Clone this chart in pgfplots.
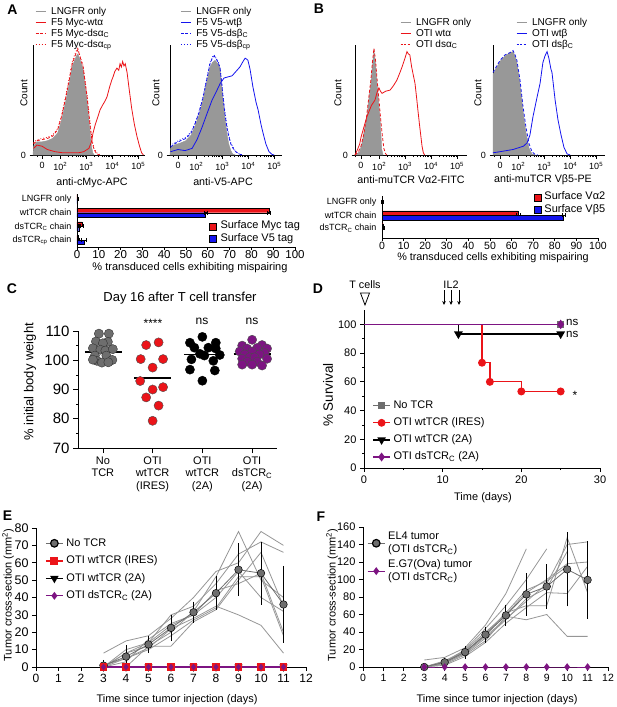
\documentclass[border=0pt]{standalone}
\usepackage{fontspec}
\setmainfont{Liberation Sans}
\setsansfont{Liberation Sans}
\usepackage{pgfplots}
\pgfplotsset{compat=1.18}
\usetikzlibrary{arrows.meta}

\definecolor{hgrey}{RGB}{152,152,152}
\definecolor{myred}{RGB}{235,20,25}
\definecolor{myblue}{RGB}{20,20,238}
\definecolor{mypurple}{RGB}{125,20,130}
\definecolor{cgrey}{RGB}{110,110,110}
\definecolor{lgrey}{RGB}{150,150,150}

\newcommand{\fs}[2]{\fontsize{#1}{#2}\selectfont}

\pgfplotsset{
  base/.style={
    scale only axis, enlargelimits=false, clip=false, anchor=south west,
    axis x line=bottom, axis y line=left,
    axis line style={-, line width=0.8pt},
    tick align=outside, major tick length=3.5pt, minor tick length=2pt,
    tick style={black, line width=0.7pt},
    /pgf/number format/assume math mode=true,
  },
  hist/.style={
    base, width=112pt, height=110pt, ymin=0, ymax=100, ytick={0},
    xtick={0,0.7,1.7,2.7,3.7},
    xticklabels={0,10\textsuperscript{2},10\textsuperscript{3},10\textsuperscript{4},10\textsuperscript{5}},
    minor xtick={-0.2,0.35,1.001,1.177,1.302,1.399,1.478,1.545,1.603,1.654,2.001,2.177,2.302,2.399,2.478,2.545,2.603,2.654,3.001,3.177,3.302,3.399,3.478,3.545,3.603,3.654},
    ticklabel style={font=\fs{9}{10}},
    legend image code/.code={\draw[##1] (0pt,0pt) -- (10.5pt,0pt);},
    legend style={draw=none, fill=none, inner sep=0pt, row sep=0pt, column sep=4pt, anchor=north west,
      font=\fs{10}{11}, nodes={inner sep=0.5pt, text height=7.5pt, text depth=2.5pt}},
    legend cell align=left,
  },
  curve/.style={line width=0.8pt, forget plot},
}

\begin{document}
\begin{tikzpicture}[x=1pt, y=-1pt]
\useasboundingbox (0,0) rectangle (617,707);

% ---------------- A: histograms
\begin{axis}[hist, at={(33pt,-155pt)}, xmin=-0.35, xmax=3.96,
  legend style={at={(0.018,1.355)}}]
\addplot[fill=hgrey, draw=hgrey, forget plot] coordinates {
 (-0.35,0)(-0.33,8)(-0.2,12)(0.0,12)(0.2,13)(0.4,15)(0.6,20)(0.75,32)(0.92,50)(1.05,66)(1.15,80)(1.25,86)(1.32,90)(1.38,92)(1.44,88)(1.5,84)(1.58,78)(1.65,64)(1.73,50)(1.8,33)(1.85,20)(1.9,8)(1.95,2)(2.0,0)} \closedcycle;
\addplot[curve, myred, dotted] coordinates {
 (-0.33,11)(-0.2,14)(0.0,15)(0.2,16)(0.4,18)(0.6,24)(0.75,36)(0.92,55)(1.05,71)(1.15,84)(1.25,91)(1.32,95)(1.36,98)(1.42,93)(1.5,87)(1.58,81)(1.65,68)(1.73,55)(1.8,39)(1.87,24)(1.93,13)(2.0,6)(2.1,2)(2.25,0)};
\addplot[curve, myred, dash pattern=on 3pt off 2pt] coordinates {
 (-0.33,10)(-0.2,13)(0.0,14)(0.2,15)(0.4,17)(0.6,23)(0.75,35)(0.92,53)(1.05,69)(1.15,82)(1.25,89)(1.32,93)(1.38,96)(1.44,91)(1.5,86)(1.58,80)(1.65,67)(1.73,53)(1.8,37)(1.87,22)(1.93,11)(2.0,5)(2.1,1)(2.2,0)};
\addplot[curve, myred] coordinates {
 (-0.33,6)(-0.2,9)(0.0,8)(0.2,5)(0.5,3)(0.8,2)(1.1,2)(1.4,2)(1.6,3)(1.8,6)(1.9,12)(1.96,20)(2.05,28)(2.15,35)(2.23,41)(2.32,45)(2.42,49)(2.5,53)(2.6,62)(2.68,68)(2.73,71)(2.8,76)(2.88,79)(2.95,77)(3.0,83)(3.05,80)(3.1,85)(3.15,81)(3.2,83)(3.27,75)(3.35,60)(3.45,42)(3.55,28)(3.65,17)(3.75,8)(3.83,2)(3.9,0)};
\addlegendimage{hgrey, line width=1pt}\addlegendentry{LNGFR only}
\addlegendimage{myred, line width=1pt}\addlegendentry{F5 Myc-wtα}
\addlegendimage{myred, line width=1pt, dash pattern=on 3pt off 1.5pt}\addlegendentry{F5 Myc-dsα\textsubscript{C}}
\addlegendimage{myred, line width=1pt, dotted}\addlegendentry{F5 Myc-dsα\textsubscript{cp}}
\end{axis}

\begin{axis}[hist, at={(170pt,-155pt)}, xmin=-0.31, xmax=4.0,
  legend style={at={(0.09,1.355)}}]
\addplot[fill=hgrey, draw=hgrey, forget plot] coordinates {
 (-0.31,0)(-0.29,6)(-0.15,9)(0.1,11)(0.3,13)(0.5,18)(0.65,26)(0.8,36)(0.96,50)(1.1,66)(1.23,80)(1.32,84)(1.42,86)(1.5,84)(1.58,82)(1.62,78)(1.68,62)(1.73,50)(1.8,35)(1.88,20)(1.95,10)(2.03,4)(2.1,1)(2.2,0)} \closedcycle;
\addplot[curve, myblue, dotted] coordinates {
 (-0.29,8)(-0.15,11)(0.1,14)(0.3,16)(0.5,21)(0.65,29)(0.8,39)(0.96,53)(1.1,69)(1.23,84)(1.32,89)(1.38,91)(1.46,88)(1.56,84)(1.62,79)(1.68,66)(1.73,54)(1.8,40)(1.88,27)(1.95,18)(2.03,11)(2.12,7)(2.22,3)(2.35,1)(2.5,0)};
\addplot[curve, myblue, dash pattern=on 3pt off 2pt] coordinates {
 (-0.29,7)(-0.15,10)(0.1,13)(0.3,15)(0.5,20)(0.65,28)(0.8,38)(0.96,52)(1.1,68)(1.23,83)(1.32,88)(1.4,90)(1.48,87)(1.56,83)(1.62,78)(1.68,65)(1.73,53)(1.8,38)(1.88,25)(1.95,17)(2.03,10)(2.12,6)(2.22,3)(2.35,1)(2.45,0)};
\addplot[curve, myblue] coordinates {
 (-0.29,3)(0.0,5)(0.27,4)(0.54,6)(0.73,14)(0.92,25)(1.12,38)(1.31,50)(1.5,59)(1.62,65)(1.77,70)(1.92,71)(2.08,72)(2.23,76)(2.38,80)(2.5,85)(2.58,88)(2.65,87)(2.69,86)(2.77,78)(2.88,62)(3.0,48)(3.08,41)(3.19,28)(3.27,20)(3.38,10)(3.5,3)(3.62,0.5)(3.7,0)};
\addlegendimage{hgrey, line width=1pt}\addlegendentry{LNGFR only}
\addlegendimage{myblue, line width=1pt}\addlegendentry{F5 V5-wtβ}
\addlegendimage{myblue, line width=1pt, dash pattern=on 3pt off 1.5pt}\addlegendentry{F5 V5-dsβ\textsubscript{C}}
\addlegendimage{myblue, line width=1pt, dotted}\addlegendentry{F5 V5-dsβ\textsubscript{cp}}
\end{axis}

% ---------------- B: histograms
\begin{axis}[hist, at={(355pt,-155pt)}, xmin=-0.23, xmax=4.08,
  legend style={at={(0.40,1.255)}}]
\addplot[fill=hgrey, draw=hgrey, forget plot] coordinates {
 (-0.23,0)(-0.05,3)(0.05,12)(0.15,25)(0.23,35)(0.3,50)(0.38,65)(0.44,82)(0.5,95)(0.55,85)(0.62,65)(0.68,48)(0.73,35)(0.77,18)(0.8,5)(0.85,0)} \closedcycle;
\addplot[curve, myred, dash pattern=on 3pt off 2pt] coordinates {
 (-0.23,0)(-0.1,3)(0.0,8)(0.1,18)(0.2,32)(0.3,52)(0.38,68)(0.44,84)(0.5,97)(0.56,86)(0.63,66)(0.7,48)(0.76,32)(0.82,18)(0.88,6)(0.95,1)(1.0,0)};
\addplot[curve, myred] coordinates {
 (-0.23,0)(-0.15,4)(-0.05,10)(0.0,16)(0.12,26)(0.23,35)(0.4,45)(0.54,50)(0.62,57)(0.69,61)(0.75,58)(0.81,56)(0.95,58)(1.12,59)(1.25,63)(1.38,68)(1.5,75)(1.58,80)(1.68,87)(1.77,94)(1.82,92)(1.88,91)(1.95,80)(2.08,65)(2.15,50)(2.19,41)(2.25,28)(2.3,18)(2.35,8)(2.4,2)(2.45,0)};
\addlegendimage{hgrey, line width=1pt}\addlegendentry{LNGFR only}
\addlegendimage{myred, line width=1pt}\addlegendentry{OTI wtα}
\addlegendimage{myred, line width=1pt, dash pattern=on 2pt off 1.5pt}\addlegendentry{OTI dsα\textsubscript{C}}
\end{axis}

\begin{axis}[hist, at={(493pt,-155pt)}, xmin=-0.27, xmax=4.04,
  legend style={at={(0.205,1.255)}}]
\addplot[fill=hgrey, draw=hgrey, forget plot] coordinates {
 (-0.27,73)(-0.15,79)(0.0,85)(0.19,90)(0.38,93)(0.5,94)(0.58,90)(0.65,84)(0.77,65)(0.88,41)(1.0,20)(1.12,6)(1.23,1)(1.35,0)} \closedcycle;
\addplot[curve, myblue, dash pattern=on 3pt off 2pt] coordinates {
 (-0.27,75)(-0.15,80)(0.0,86)(0.19,91)(0.38,93)(0.5,95)(0.58,91)(0.65,86)(0.77,68)(0.88,45)(1.0,25)(1.12,10)(1.23,3)(1.35,0.5)(1.45,0)};
\addplot[curve, myblue] coordinates {
 (-0.27,2)(0.0,3)(0.5,5)(0.9,8)(1.04,11)(1.15,18)(1.27,35)(1.42,52)(1.54,65)(1.65,84)(1.73,90)(1.81,94)(1.88,88)(1.96,78)(2.0,75)(2.12,50)(2.23,32)(2.35,18)(2.46,7)(2.58,1)(2.7,0)};
\addlegendimage{hgrey, line width=1pt}\addlegendentry{LNGFR only}
\addlegendimage{myblue, line width=1pt}\addlegendentry{OTI wtβ}
\addlegendimage{myblue, line width=1pt, dash pattern=on 2pt off 1.5pt}\addlegendentry{OTI dsβ\textsubscript{C}}
\end{axis}

% ---------------- A: bars
\begin{axis}[base, at={(77pt,-247pt)}, width=218pt, height=52pt,
  xmin=0, xmax=100, ymin=0.49, ymax=4.3,
  xtick={0,10,...,100}, ytick={1,2,3,4},
  yticklabels={dsTCR\textsubscript{cp} chain, dsTCR\textsubscript{C} chain, wtTCR chain, LNGFR only},
  ytick style={draw=none}, yticklabel style={font=\fs{9}{10}, xshift=1pt},
  xticklabel style={font=\fs{11.5}{12}, inner sep=0.5pt}, major tick length=3pt,
  legend image code/.code={\draw[#1] (0pt,-3.5pt) rectangle (7pt,3.5pt);},
  legend style={at={(0.606,0.52)}, anchor=north west, draw=none, fill=none, inner sep=0pt, row sep=0pt, column sep=3pt,
    font=\fs{11}{12}, nodes={inner sep=0.8pt, text height=8pt, text depth=2.5pt}},
  legend cell align=left]
\addplot[xbar, bar width=4.6pt, bar shift=2.3pt, fill=myred, draw=black, line width=0.4pt, forget plot,
  error bars/.cd, x dir=both, x explicit, error bar style={black, line width=0.6pt}]
  coordinates {(0.3,4) +- (0.4,0) (88,3) +- (0.8,0) (2.2,2) +- (0.8,0) (0.6,1) +- (0.4,0)};
\addplot[xbar, bar width=4.6pt, bar shift=-2.3pt, fill=myblue, draw=black, line width=0.4pt, forget plot,
  error bars/.cd, x dir=both, x explicit, error bar style={black, line width=0.6pt}]
  coordinates {(0.2,4) +- (0.3,0) (59,3) +- (0.5,0) (0.8,2) +- (0.3,0) (3.2,1) +- (1.2,0)};
\addlegendimage{fill=myred, draw=black}\addlegendentry{Surface Myc tag}
\addlegendimage{fill=myblue, draw=black}\addlegendentry{Surface V5 tag}
\end{axis}

% ---------------- B: bars
\begin{axis}[base, at={(382pt,-238pt)}, width=216pt, height=42pt,
  xmin=0, xmax=100, ymin=0.25, ymax=3.5,
  xtick={0,10,...,100}, ytick={1,2,3},
  yticklabels={dsTCR\textsubscript{C} chain, wtTCR chain, LNGFR only},
  ytick style={draw=none}, yticklabel style={font=\fs{9}{10}, xshift=1pt},
  xticklabel style={font=\fs{10.5}{11}, inner sep=1pt}, major tick length=3pt,
  legend image code/.code={\draw[#1] (0pt,-3.5pt) rectangle (7pt,3.5pt);},
  legend style={at={(0.704,1.12)}, anchor=north west, draw=none, fill=none, inner sep=0pt, row sep=0pt, column sep=2pt,
    font=\fs{11}{12}, nodes={inner sep=0.8pt, text height=8pt, text depth=2.5pt}},
  legend cell align=left]
\addplot[xbar, bar width=4.6pt, bar shift=2.3pt, fill=myred, draw=black, line width=0.4pt, forget plot,
  error bars/.cd, x dir=both, x explicit, error bar style={black, line width=0.6pt}]
  coordinates {(0.2,3) +- (0.3,0) (63,2) +- (0.8,0) (0.6,1) +- (0.4,0)};
\addplot[xbar, bar width=4.6pt, bar shift=-2.3pt, fill=myblue, draw=black, line width=0.4pt, forget plot,
  error bars/.cd, x dir=both, x explicit, error bar style={black, line width=0.6pt}]
  coordinates {(0.1,3) +- (0.3,0) (84,2) +- (0.8,0) (0.2,1) +- (0.2,0)};
\addlegendimage{fill=myred, draw=black}\addlegendentry{Surface Vα2}
\addlegendimage{fill=myblue, draw=black}\addlegendentry{Surface Vβ5}
\end{axis}

% ---------------- C: body weight
\begin{axis}[base, at={(78pt,-448pt)}, width=199pt, height=117pt,
  xmin=0.5, xmax=4.5, ymin=70, ymax=110,
  ytick={70,80,...,110}, minor ytick={75,85,95,105},
  xtick={1,2,3,4}, major tick length=5pt,
  xticklabels={{No\\TCR},{OTI\\wtTCR\\(IRES)},{OTI\\wtTCR\\(2A)},{OTI\\dsTCR\textsubscript{C}\\(2A)}},
  xticklabel style={align=center, font=\fs{11}{12.5}},
  yticklabel style={font=\fs{15}{16}}]
\addplot[only marks, mark=*, mark size=4.6pt, mark options={fill=cgrey, draw=black!80, line width=0.4pt}] coordinates {
 (0.92,109.1)(1.12,109.1)(0.86,106.4)(1.10,106.3)(1.00,105.8)(0.80,104.1)(0.95,103.6)(1.05,103.3)(1.20,103.8)(0.84,101.6)(1.07,101.6)(1.19,100.1)(0.88,99.8)(0.98,99.2)(1.11,99.3)(0.80,100.2)};
\addplot[only marks, mark=*, mark size=4.6pt, mark options={fill=myred, draw=black!70, line width=0.4pt}] coordinates {
 (1.87,105.2)(2.12,106.1)(1.76,100.4)(2.21,100.4)(2.0,97.5)(1.75,92.9)(2.0,90.0)(2.21,90.8)(1.87,87.3)(2.12,84.5)(2.0,79.3)};
\addplot[only marks, mark=*, mark size=4.6pt, mark options={fill=black, draw=black}] coordinates {
 (3.0,108)(2.75,106)(3.27,106)(2.84,104.3)(3.12,104.3)(3.27,104)(2.95,102.2)(3.04,101.6)(3.35,101.8)(2.78,100.3)(3.22,99.8)(2.75,96.8)(3.25,96.5)(3.0,93)};
\addplot[only marks, mark=*, mark size=4.6pt, mark options={fill=mypurple, draw=black!70, line width=0.4pt}] coordinates {
 (4.0,107)(3.8,105)(4.2,105.2)(3.9,104)(4.1,104.2)(4.3,104)(3.75,103)(4.0,103)(4.25,102.5)(3.85,102)(4.15,102)(3.95,101)(4.05,101)(3.8,100.5)(4.3,100.5)(3.9,99.5)(4.1,99.5)(4.0,98.5)(4.2,98.2)(3.8,98.5)};
\addplot[black, line width=1.6pt] coordinates {(0.64,102.8)(1.38,102.8)};
\addplot[black, line width=1.6pt] coordinates {(1.63,94.0)(2.37,94.0)};
\addplot[black, line width=1.6pt] coordinates {(2.63,101.9)(3.37,101.9)};
\addplot[black, line width=1.6pt] coordinates {(3.63,102.1)(4.37,102.1)};
\end{axis}

% ---------------- D: survival
\begin{axis}[base, at={(364pt,-468pt)}, width=236pt, height=158pt,
  xmin=0, xmax=30, ymin=0, ymax=110,
  xtick={0,10,20,30}, minor xtick={5,15,25}, ytick={0,20,...,100}, minor ytick={10,30,...,90},
  ticklabel style={font=\fs{11}{12}}, major tick length=4pt,
  legend style={at={(0.035,0.03)}, anchor=south west, draw=none, fill=none, inner sep=0pt, row sep=5pt, column sep=2pt,
    font=\fs{11}{12}, nodes={inner sep=0.8pt, text height=8pt, text depth=2.5pt}},
  legend cell align=left]
\addplot[const plot, forget plot, cgrey, line width=1.3pt, mark=square*, mark size=3pt, mark indices={2}] coordinates {(0,100)(25,100)};
\addplot[const plot, forget plot, black, line width=1.3pt, mark=triangle*, mark size=3.8pt, mark options={rotate=180}, mark indices={2,3}] coordinates {(0,100)(12,93.3)(25,93.3)};
\addplot[const plot, forget plot, myred, line width=1.3pt, mark=*, mark size=3.3pt, mark indices={2,3,4,5}] coordinates {(0,100)(15,73.3)(16,60)(20,53.3)(25,53.3)};
\addplot[const plot, forget plot, mypurple, line width=1.5pt, mark=diamond*, mark size=3.5pt, mark indices={2}] coordinates {(0,100)(25,100)};
\addlegendimage{cgrey, line width=1.2pt, mark=square*, mark size=3pt}\addlegendentry{No TCR}
\addlegendimage{myred, line width=1.2pt, mark=*, mark size=3.3pt}\addlegendentry{OTI wtTCR (IRES)}
\addlegendimage{black, line width=1.2pt, mark=triangle*, mark size=3.8pt, mark options={rotate=180}}\addlegendentry{OTI wtTCR (2A)}
\addlegendimage{mypurple, line width=1.2pt, mark=diamond*, mark size=3.5pt}\addlegendentry{OTI dsTCR\textsubscript{C} (2A)}
\end{axis}

% ---------------- E: tumour growth
\begin{axis}[base, at={(36pt,-667pt)}, width=270pt, height=139pt,
  xmin=0, xmax=12, ymin=0, ymax=80,
  xtick={0,...,12}, ytick={0,10,...,80},
  xticklabel style={font=\fs{12}{13}}, yticklabel style={font=\fs{12.5}{13}}, major tick length=4pt,
  legend style={at={(0.033,0.935)}, anchor=north west, draw=none, fill=none, inner sep=0pt, row sep=5.4pt, column sep=2pt,
    font=\fs{11}{12}, nodes={inner sep=0.8pt, text height=8pt, text depth=2.5pt}},
  legend cell align=left]
\addplot[forget plot, lgrey, line width=0.8pt] coordinates {(3,8)(4,15)(5,18)(6,28)(7,40)(8,55)(9,60)(10,78)(11,70)};
\addplot[forget plot, lgrey, line width=0.8pt] coordinates {(3,0)(4,0)(5,12)(6,20)(7,32)(8,52)(9,78)(10,50)(11,40)};
\addplot[forget plot, lgrey, line width=0.8pt] coordinates {(3,0)(4,10)(5,14)(6,30)(7,35)(8,48)(9,65)(10,72)(11,66)};
\addplot[forget plot, lgrey, line width=0.8pt] coordinates {(3,0)(4,5)(5,11)(6,22)(7,28)(8,35)(9,30)(10,24)(11,8)};
\addplot[forget plot, lgrey, line width=0.8pt] coordinates {(3,0)(4,8)(5,12)(6,12)(7,26)(8,33)(9,50)(10,66)(11,35)};
\addplot[forget plot, lgrey, line width=0.8pt] coordinates {(3,0)(4,3)(5,16)(6,25)(7,30)(8,40)(9,55)(10,40)(11,32)};
\addplot[forget plot, lgrey, line width=0.8pt] coordinates {(3,0)(4,8)(5,14)(6,24)(7,30)(8,44)(9,48)(10,54)(11,20)};
\addplot[forget plot, lgrey, line width=0.8pt] coordinates {(3,1)(4,5)(5,10)(6,18)(7,27)(8,34)(9,52)(10,52)(11,18)};
\addplot[forget plot, cgrey, line width=0.8pt, mark=*, mark size=3.8pt, mark options={fill=cgrey, draw=black, line width=0.5pt},
  error bars/.cd, y dir=both, y explicit, error bar style={black, line width=0.9pt}, error mark options={black, mark size=2pt, line width=0.9pt}]
  coordinates {(3,0.8) +- (0,2.2) (4,6) +- (0,5.5) (5,13) +- (0,3.5) (6,22.5) +- (0,6.5) (7,31.5) +- (0,5) (8,42.5) +- (0,8.5) (9,56) +- (0,14) (10,54) +- (0,17) (11,36) +- (0,21)};
\addplot[forget plot, black, line width=1.2pt, mark=triangle*, mark size=3.5pt, mark options={rotate=180}] coordinates {(3,0)(4,0)(5,0)(6,0)(7,0)(8,0)(9,0)(10,0)(11,0)};
\addplot[forget plot, myred, line width=1.2pt, mark=square*, mark size=3.3pt] coordinates {(3,0)(4,0)(5,0)(6,0)(7,0)(8,0)(9,0)(10,0)(11,0)};
\addplot[forget plot, mypurple, line width=1.4pt, mark=diamond*, mark size=2.2pt] coordinates {(3,0)(4,0)(5,0)(6,0)(7,0)(8,0)(9,0)(10,0)(11,0)};
\addlegendimage{cgrey, line width=1.2pt, mark=*, mark size=3.8pt, mark options={fill=cgrey, draw=black}}\addlegendentry{No TCR}
\addlegendimage{myred, line width=1.5pt, mark=square*, mark size=3.3pt}\addlegendentry{OTI wtTCR (IRES)}
\addlegendimage{black, line width=1.5pt, mark=triangle*, mark size=3.5pt, mark options={rotate=180}}\addlegendentry{OTI wtTCR (2A)}
\addlegendimage{mypurple, line width=1.2pt, mark=diamond*, mark size=3pt}\addlegendentry{OTI dsTCR\textsubscript{C} (2A)}
\end{axis}

% ---------------- F: tumour growth
\begin{axis}[base, at={(363pt,-667pt)}, width=245pt, height=140pt,
  xmin=0, xmax=12, ymin=0, ymax=160,
  xtick={0,...,12}, ytick={0,20,...,160},
  xticklabel style={font=\fs{10.5}{11}}, yticklabel style={font=\fs{11}{12}}, major tick length=4pt,
  legend style={at={(0.016,0.97)}, anchor=north west, draw=none, fill=none, inner sep=0pt, row sep=4pt, column sep=2pt,
    font=\fs{11}{13}, cells={align=left}, nodes={inner sep=0.8pt}},
  legend cell align=left]
\addplot[forget plot, lgrey, line width=0.8pt] coordinates {(3,8)(4,11)(5,22)(6,48)(7,84)(8,135)};
\addplot[forget plot, lgrey, line width=0.8pt] coordinates {(3,0)(4,5)(5,20)(6,44)(7,70)(8,100)(9,135)};
\addplot[forget plot, lgrey, line width=0.8pt] coordinates {(3,0)(4,3)(5,14)(6,30)(7,58)(8,54)(9,60)(10,35)(11,35)};
\addplot[forget plot, lgrey, line width=0.8pt] coordinates {(3,0)(4,6)(5,18)(6,36)(7,62)(8,70)(9,70)(10,148)(11,85)};
\addplot[forget plot, lgrey, line width=0.8pt] coordinates {(3,0)(4,4)(5,16)(6,35)(7,55)(8,75)(9,95)(10,140)(11,143)};
\addplot[forget plot, lgrey, line width=0.8pt] coordinates {(3,0)(4,7)(5,19)(6,40)(7,60)(8,85)(9,100)(10,118)(11,120)};
\addplot[forget plot, lgrey, line width=0.8pt] coordinates {(3,0)(4,2)(5,12)(6,28)(7,50)(8,68)(9,85)(10,84)(11,115)};
\addplot[forget plot, lgrey, line width=0.8pt] coordinates {(3,0)(4,5)(5,15)(6,33)(7,54)(8,78)(9,90)(10,132)};
\addplot[forget plot, lgrey, line width=0.8pt] coordinates {(3,0)(4,6)(5,17)(6,38)(7,62)(8,88)(9,98)(10,115)};
\addplot[forget plot, cgrey, line width=0.8pt, mark=*, mark size=3.8pt, mark options={fill=cgrey, draw=black, line width=0.5pt},
  error bars/.cd, y dir=both, y explicit, error bar style={black, line width=0.9pt}, error mark options={black, mark size=2pt, line width=0.9pt}]
  coordinates {(3,0) +- (0,0.5) (4,5.4) +- (0,3) (5,17) +- (0,5) (6,37) +- (0,7) (7,59) +- (0,10) (8,83) +- (0,22) (9,92) +- (0,23) (10,111.6) +- (0,40) (11,99.5) +- (0,42)};
\addplot[forget plot, mypurple, line width=1pt, mark=diamond*, mark size=3pt] coordinates {(3,0)(4,0)(5,0)(6,0)(7,0)(8,0)(9,0)(10,0)(11,0)};
\addlegendimage{cgrey, line width=1.2pt, mark=*, mark size=3.8pt, mark options={fill=cgrey, draw=black}}\addlegendentry{EL4 tumor\\(OTI dsTCR\textsubscript{C})}
\addlegendimage{mypurple, line width=1.2pt, mark=diamond*, mark size=3pt}\addlegendentry{E.G7(Ova) tumor\\(OTI dsTCR\textsubscript{C})}
\end{axis}

% ---------------- text
\begin{scope}[every node/.style={inner sep=0pt}]
\node[font=\fs{14}{15}\bfseries] at (12.5,10) {A};
\node[font=\fs{14}{15}\bfseries] at (319,9) {B};
\node[font=\fs{14}{15}\bfseries] at (12,289) {C};
\node[font=\fs{14}{15}\bfseries] at (318,289) {D};
\node[font=\fs{14}{15}\bfseries] at (7.5,516) {E};
\node[font=\fs{14}{15}\bfseries] at (321,517) {F};

\node[font=\fs{10}{11}, rotate=90] at (24,93) {Count};
\node[font=\fs{10}{11}, rotate=90] at (156,93) {Count};
\node[font=\fs{10}{11}, rotate=90] at (338,93) {Count};
\node[font=\fs{10}{11}, rotate=90] at (478,93) {Count};
\node[font=\fs{10.7}{12}] at (92,183) {anti-cMyc-APC};
\node[font=\fs{10.7}{12}] at (223,182) {anti-V5-APC};
\node[font=\fs{10.7}{12}] at (411,180) {anti-muTCR Vα2-FITC};
\node[font=\fs{10.7}{12}] at (543,180) {anti-muTCR Vβ5-PE};
\node[font=\fs{11}{12}] at (190,268) {\% transduced cells exhibiting mispairing};
\node[font=\fs{10.8}{12}] at (493,258) {\% transduced cells exhibiting mispairing};

\node[font=\fs{13}{14}] at (180,298) {Day 16 after T cell transfer};
\node[font=\fs{13}{14}, rotate=90] at (30,382) {\% initial body weight};
\node[font=\fs{12}{13}] at (153,323) {****};
\node[font=\fs{12}{13}] at (202,321) {ns};
\node[font=\fs{12}{13}] at (252,321) {ns};

\node[font=\fs{13.5}{14}, rotate=90] at (328,395) {\% Survival};
\node[font=\fs{11}{12}] at (483,498) {Time (days)};
\node[font=\fs{10.8}{12}] at (365,285) {T cells};
\node[font=\fs{10.8}{12}] at (451,285) {IL2};
\draw[line width=0.8pt] (360.5,293) -- (369.5,293) -- (365,305) -- cycle;
\foreach \xx in {444,451,459} {\draw[line width=0.8pt, -{Stealth[length=4pt,width=3.6pt]}] (\xx,290) -- (\xx,305);}
\node[font=\fs{11.5}{12}, anchor=west] at (566,322.5) {ns};
\node[font=\fs{11.5}{12}, anchor=west] at (566,334) {ns};
\node[font=\fs{12}{13}] at (575,395) {*};

\node[font=\fs{11}{12}, rotate=90] at (8,595) {Tumor cross-section (mm\textsuperscript{2})};
\node[font=\fs{11}{12}] at (177,700) {Time since tumor injection (days)};
\node[font=\fs{11}{12}, rotate=90] at (332,595) {Tumor cross-section (mm\textsuperscript{2})};
\node[font=\fs{11}{12}] at (497,700) {Time since tumor injection (days)};
\end{scope}
\end{tikzpicture}
\end{document}
